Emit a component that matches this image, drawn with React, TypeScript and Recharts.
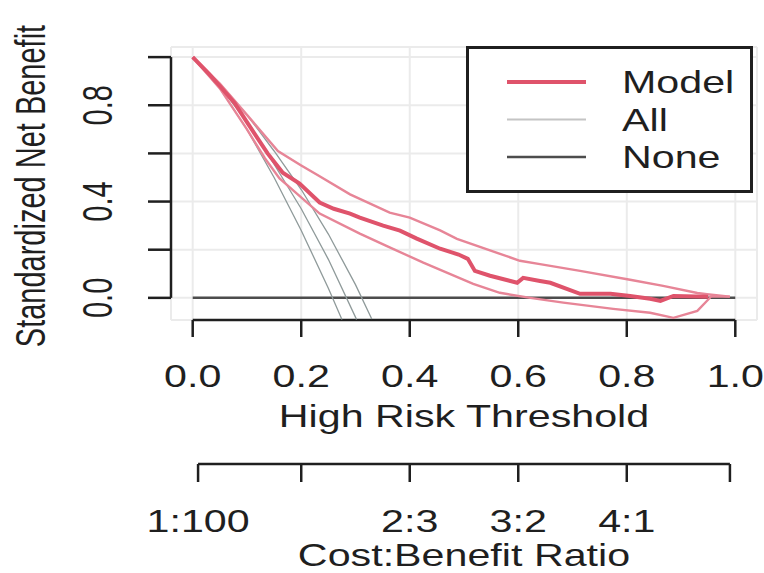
import { LineChart, Line, XAxis, YAxis, CartesianGrid, ReferenceLine, Legend } from "recharts";

// x = high risk threshold, y = standardized net benefit
const thresholdTicks = [0, 0.2, 0.4, 0.6, 0.8, 1.0];
const thresholdLabels = ["0.0", "0.2", "0.4", "0.6", "0.8", "1.0"];
const benefitTicks = [0, 0.2, 0.4, 0.6, 0.8, 1.0];
const benefitLabels = ["0.0", "", "0.4", "", "0.8", ""];
const costBenefitTicks = [0.0099, 0.2, 0.4, 0.6, 0.8, 0.9901];
const costBenefitLabels = ["1:100", "", "2:3", "3:2", "4:1", ""];

const modelThr = [0, 0.03, 0.05, 0.077, 0.1, 0.138, 0.166, 0.197, 0.234, 0.26, 0.29, 0.308, 0.351, 0.382, 0.413, 0.456, 0.49, 0.507, 0.52, 0.548, 0.598, 0.609, 0.64, 0.659, 0.714, 0.77, 0.806, 0.843, 0.862, 0.886, 0.95];
const modelNB = [1, 0.93, 0.88, 0.81, 0.73, 0.6, 0.52, 0.475, 0.396, 0.37, 0.35, 0.333, 0.3, 0.279, 0.246, 0.204, 0.18, 0.162, 0.112, 0.092, 0.0625, 0.083, 0.07, 0.0625, 0.017, 0.017, 0.008, -0.004, -0.0125, 0.008, 0.005];

const upperThr = [0, 0.05, 0.1, 0.157, 0.2, 0.23, 0.29, 0.363, 0.4, 0.456, 0.487, 0.603, 0.64, 0.714, 0.806, 0.867, 0.93, 0.948, 0.99];
const upperNB = [1, 0.89, 0.76, 0.61, 0.55, 0.51, 0.43, 0.354, 0.333, 0.28, 0.245, 0.154, 0.14, 0.112, 0.075, 0.05, 0.02, 0.015, 0.005];

const lowerThr = [0, 0.05, 0.1, 0.133, 0.16, 0.234, 0.308, 0.363, 0.425, 0.517, 0.566, 0.622, 0.683, 0.775, 0.843, 0.886, 0.93, 0.948, 0.955, 0.99];
const lowerNB = [1, 0.87, 0.7, 0.58, 0.496, 0.35, 0.267, 0.21, 0.146, 0.058, 0.021, 0.0, -0.02, -0.046, -0.062, -0.083, -0.054, -0.012, 0.005, 0.005];

const allThr = [0, 0.05, 0.1, 0.15, 0.2, 0.25, 0.3, 0.33];
const allLowNB = [1, 0.87, 0.7, 0.5, 0.28, 0.04, null, null];
const allLowEnd = [0.275, -0.09];
const allMidNB = [1, 0.88, 0.73, 0.555, 0.37, 0.16, -0.08, null];
const allMidEnd = [0.302, -0.09];
const allHighNB = [1, 0.89, 0.76, 0.61, 0.45, 0.265, 0.055, -0.088];

const noneThr = [0, 1];
const noneNB = [0, 0];

const legendItems = [
  { name: "Model", color: "#DF536B", width: 4 },
  { name: "All", color: "#c4c4c4", width: 2 },
  { name: "None", color: "#4d4d4d", width: 2.5 },
];

const pts = (xs: number[], ys: (number | null)[], end?: number[]) => {
  const out = xs
    .map((x, i) => ({ x, y: ys[i] }))
    .filter((p) => p.y !== null) as { x: number; y: number }[];
  if (end) out.push({ x: end[0], y: end[1] });
  return out;
};

const INK = "#1f1f1f";
const FONT = "'Liberation Sans', Arial, Helvetica, sans-serif";
const FS = 31;
const SX = 1.33;
const SX_V = 1.45;
const AXIS_Y = 320;
const CB_Y = 464;

function HText({ x, y, children }: { x: number; y: number; children: any }) {
  return (
    <text
      transform={`translate(${x},${y}) scale(${SX},1)`}
      textAnchor="middle"
      dy="0.36em"
      fontFamily={FONT}
      fontSize={FS}
      fill={INK}
    >
      {children}
    </text>
  );
}

function VText({ x, y, size, children }: { x: number; y: number; size: number; children: any }) {
  return (
    <text
      transform={`translate(${x},${y}) scale(${SX_V},1) rotate(-90)`}
      textAnchor="middle"
      dy="0.36em"
      fontFamily={FONT}
      fontSize={size}
      fill={INK}
    >
      {children}
    </text>
  );
}

const ThresholdTick = (props: any) => {
  const { x, index } = props;
  return (
    <g>
      <line x1={x} x2={x} y1={AXIS_Y} y2={AXIS_Y + 17} stroke={INK} strokeWidth={2.5} />
      <HText x={x} y={376}>{thresholdLabels[index]}</HText>
      {index === 0 && <HText x={464} y={416}>High Risk Threshold</HText>}
    </g>
  );
};

const CostBenefitTick = (props: any) => {
  const { x, index } = props;
  return (
    <g>
      <line x1={x} x2={x} y1={CB_Y} y2={CB_Y + 18} stroke={INK} strokeWidth={2.5} />
      <HText x={x} y={521}>{costBenefitLabels[index]}</HText>
      {index === 0 && <HText x={464} y={555}>Cost:Benefit Ratio</HText>}
    </g>
  );
};

const BenefitTick = (props: any) => {
  const { y, index } = props;
  return (
    <g>
      <line x1={148} x2={171} y1={y} y2={y} stroke={INK} strokeWidth={2.5} />
      {benefitLabels[index] && (
        <VText x={97} y={y} size={29}>
          {benefitLabels[index]}
        </VText>
      )}
      {index === 0 && (
        <VText x={30} y={186} size={29}>
          Standardized Net Benefit
        </VText>
      )}
    </g>
  );
};

const LegendBox = () => (
  <svg width={287} height={147} style={{ display: "block" }}>
    <rect x={1.5} y={1.5} width={284} height={144} fill="#fff" stroke={INK} strokeWidth={3} />
    {legendItems.map((it, i) => {
      const cy = 36 + i * 37.5;
      return (
        <g key={it.name}>
          <line x1={41} x2={120} y1={cy} y2={cy} stroke={it.color} strokeWidth={it.width} />
          <text
            transform={`translate(156,${cy}) scale(${SX},1)`}
            dy="0.36em"
            fontFamily={FONT}
            fontSize={FS}
            fill={INK}
          >
            {it.name}
          </text>
        </g>
      );
    })}
  </svg>
);

export default function App() {
  const noneData = pts(noneThr, noneNB);
  return (
    <div style={{ position: "absolute", left: 0, top: 0, width: 764, height: 573, background: "#fff" }}>
      <LineChart width={764} height={573} data={noneData} margin={{ top: 47, right: 7, bottom: 53, left: 71 }}>
        <CartesianGrid stroke="#ebebeb" strokeWidth={2} />
        <XAxis
          dataKey="x"
          type="number"
          domain={[-0.04, 1.04]}
          ticks={thresholdTicks}
          interval={0}
          height={100}
          axisLine={false}
          tickLine={false}
          tick={<ThresholdTick />}
        />
        <XAxis
          xAxisId="cb"
          dataKey="x"
          type="number"
          domain={[-0.04, 1.04]}
          ticks={costBenefitTicks}
          interval={0}
          height={100}
          axisLine={false}
          tickLine={false}
          tick={<CostBenefitTick />}
        />
        <YAxis
          type="number"
          domain={[-0.092, 1.042]}
          ticks={benefitTicks}
          interval={0}
          width={100}
          axisLine={false}
          tickLine={false}
          tick={<BenefitTick />}
        />
        <ReferenceLine
          segment={[{ x: 0, y: -0.092 }, { x: 1, y: -0.092 }]}
          stroke={INK}
          strokeWidth={2.5}
          ifOverflow="visible"
        />
        <ReferenceLine
          segment={[{ x: -0.04, y: 0 }, { x: -0.04, y: 1 }]}
          stroke={INK}
          strokeWidth={2.5}
          ifOverflow="visible"
        />
        <ReferenceLine
          segment={[{ x: 0.0099, y: -0.6903 }, { x: 0.9901, y: -0.6903 }]}
          stroke={INK}
          strokeWidth={2.5}
          ifOverflow="visible"
        />
        <Line dataKey="y" stroke="#4d4d4d" strokeWidth={2.5} dot={false} isAnimationActive={false} />
        <Line data={pts(allThr, allLowNB, allLowEnd)} dataKey="y" stroke="#8f9a9a" strokeWidth={1.3} dot={false} isAnimationActive={false} />
        <Line data={pts(allThr, allMidNB, allMidEnd)} dataKey="y" stroke="#8f9a9a" strokeWidth={1.3} dot={false} isAnimationActive={false} />
        <Line data={pts(allThr, allHighNB)} dataKey="y" stroke="#8f9a9a" strokeWidth={1.3} dot={false} isAnimationActive={false} />
        <Line data={pts(upperThr, upperNB)} dataKey="y" stroke="#e78597" strokeWidth={2.4} dot={false} isAnimationActive={false} />
        <Line data={pts(lowerThr, lowerNB)} dataKey="y" stroke="#e78597" strokeWidth={2.4} dot={false} isAnimationActive={false} />
        <Line data={pts(modelThr, modelNB)} dataKey="y" stroke="#DF536B" strokeWidth={4} dot={false} isAnimationActive={false} />
        <Legend
          layout="horizontal"
          align="center"
          verticalAlign="middle"
          content={<LegendBox />}
          wrapperStyle={{ position: "absolute", left: 466, top: 46, width: 287, height: 147 }}
        />
      </LineChart>
    </div>
  );
}
